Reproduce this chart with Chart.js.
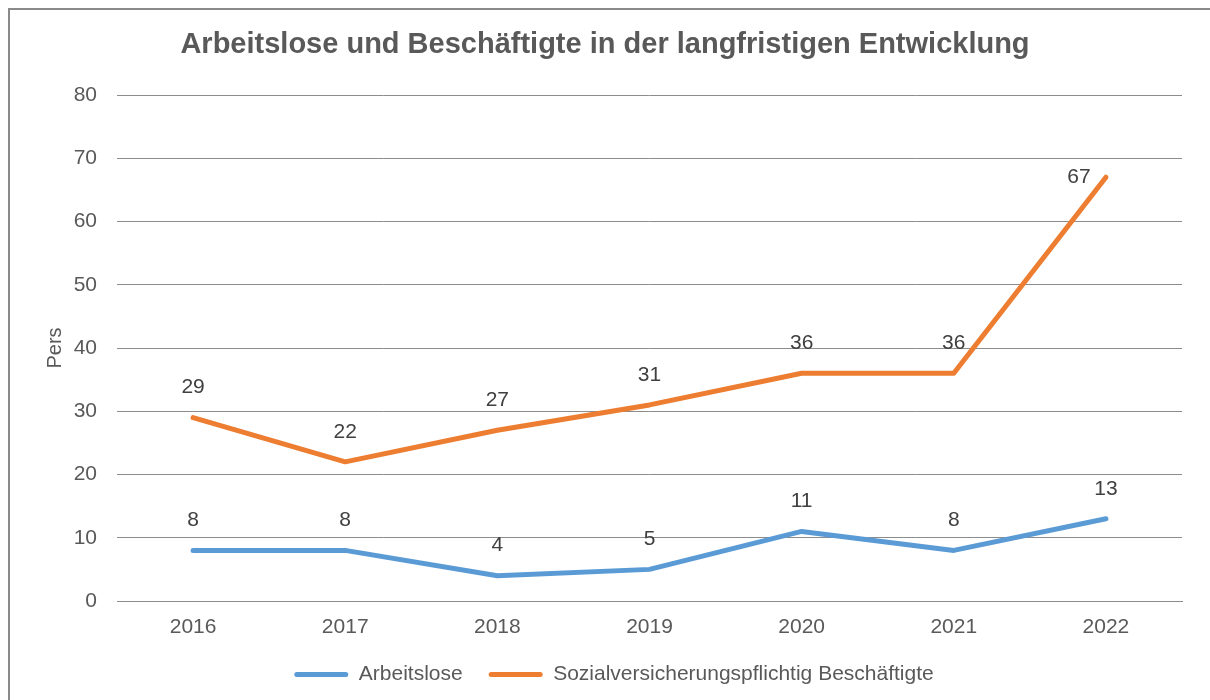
<!DOCTYPE html>
<html>
<head>
<meta charset="utf-8">
<script src="https://cdn.jsdelivr.net/npm/chart.js@4"></script>
<style>
  html, body { margin: 0; padding: 0; background: #fff; }
  #wrap { position: relative; width: 1210px; height: 700px; }
  #frame {
    position: absolute; left: 8px; top: 8px; width: 1210px; height: 700px;
    border-left: 2px solid #8a8a8a; border-top: 2px solid #8a8a8a;
    pointer-events: none;
  }
  canvas { position: absolute; left: 0; top: 0; }
</style>
</head>
<body>
<div id="wrap">
  <canvas id="myChart" width="1210" height="700"></canvas>
  <div id="frame"></div>
</div>
<script>
const years = ["2016", "2017", "2018", "2019", "2020", "2021", "2022"];
const arbeitslose = [8, 8, 4, 5, 11, 8, 13];
const beschaeftigte = [29, 22, 27, 31, 36, 36, 67];
const yTicks = [0, 10, 20, 30, 40, 50, 60, 70, 80];
const seriesNames = ["Arbeitslose", "Sozialversicherungspflichtig Beschäftigte"];
const titleText = "Arbeitslose und Beschäftigte in der langfristigen Entwicklung";

const FONT = "'Liberation Sans', Arial, sans-serif";
const gridGray = "#8c8c8c";

// title drawn by hand so the plot area can be pinned with layout padding
const titlePlugin = {
  id: "bigTitle",
  afterDraw(chart) {
    const ctx = chart.ctx;
    ctx.save();
    ctx.font = "bold 29px " + FONT;
    ctx.fillStyle = "#595959";
    ctx.textAlign = "center";
    ctx.textBaseline = "middle";
    ctx.fillText(titleText, chart.width / 2, 45);
    ctx.restore();
  }
};

// value labels above each point (last orange one sits to the left, like Excel)
const valueLabels = {
  id: "valueLabels",
  afterDatasetsDraw(chart) {
    const ctx = chart.ctx;
    ctx.save();
    ctx.font = "21px " + FONT;
    ctx.fillStyle = "#404040";
    ctx.textAlign = "center";
    ctx.textBaseline = "middle";
    chart.data.datasets.forEach((ds, di) => {
      const meta = chart.getDatasetMeta(di);
      meta.data.forEach((pt, i) => {
        let x = pt.x, y = pt.y - 30;
        if (di === 1 && i === ds.data.length - 1) { x = pt.x - 27; y = pt.y; }
        ctx.fillText(String(ds.data[i]), x, y);
      });
    });
    ctx.restore();
  }
};

const ctx = document.getElementById("myChart").getContext("2d");
const chart = new Chart(ctx, {
  type: "line",
  data: {
    labels: years,
    datasets: [
      {
        label: seriesNames[0],
        data: arbeitslose,
        borderColor: "#5b9bd5",
        backgroundColor: "#5b9bd5",
        borderWidth: 5,
        pointRadius: 0,
        borderCapStyle: "round",
        borderJoinStyle: "round",
        tension: 0
      },
      {
        label: seriesNames[1],
        data: beschaeftigte,
        borderColor: "#ed7d31",
        backgroundColor: "#ed7d31",
        borderWidth: 5,
        pointRadius: 0,
        borderCapStyle: "round",
        borderJoinStyle: "round",
        tension: 0
      }
    ]
  },
  options: {
    responsive: false,
    animation: false,
    // left padding nudges the legend right; y axis width keeps plot at x=117
    layout: { padding: { left: 46, right: 28, top: 95, bottom: 5 } },
    plugins: {
      title: { display: false },
      tooltip: { enabled: false },
      legend: {
        position: "bottom",
        labels: {
          font: { family: FONT, size: 21 },
          color: "#595959",
          boxWidth: 54,
          boxHeight: 5,
          padding: 26,
          useBorderRadius: true,
          borderRadius: 2.5,
          generateLabels(c) {
            const items = Chart.defaults.plugins.legend.labels.generateLabels(c);
            items.forEach(it => { it.lineWidth = 0; });
            return items;
          }
        }
      }
    },
    scales: {
      x: {
        offset: true,
        grid: { display: false, drawTicks: false },
        border: { display: true, color: gridGray, width: 1 },
        ticks: { font: { family: FONT, size: 21 }, color: "#595959", padding: 14 },
        afterFit(scale) { scale.height = 37; }
      },
      y: {
        min: 0,
        max: 80,
        afterBuildTicks(scale) { scale.ticks = yTicks.map(v => ({ value: v })); },
        grid: { color: gridGray, lineWidth: 1, drawTicks: false },
        border: { display: false },
        ticks: { font: { family: FONT, size: 21 }, color: "#595959", padding: 20 },
        title: {
          display: true,
          text: "Pers",
          font: { family: FONT, size: 20 },
          color: "#595959",
          padding: { top: -3, bottom: 0 }
        },
        afterFit(scale) { scale.width = 71; }
      }
    }
  },
  plugins: [titlePlugin, valueLabels]
});
</script>
</body>
</html>
